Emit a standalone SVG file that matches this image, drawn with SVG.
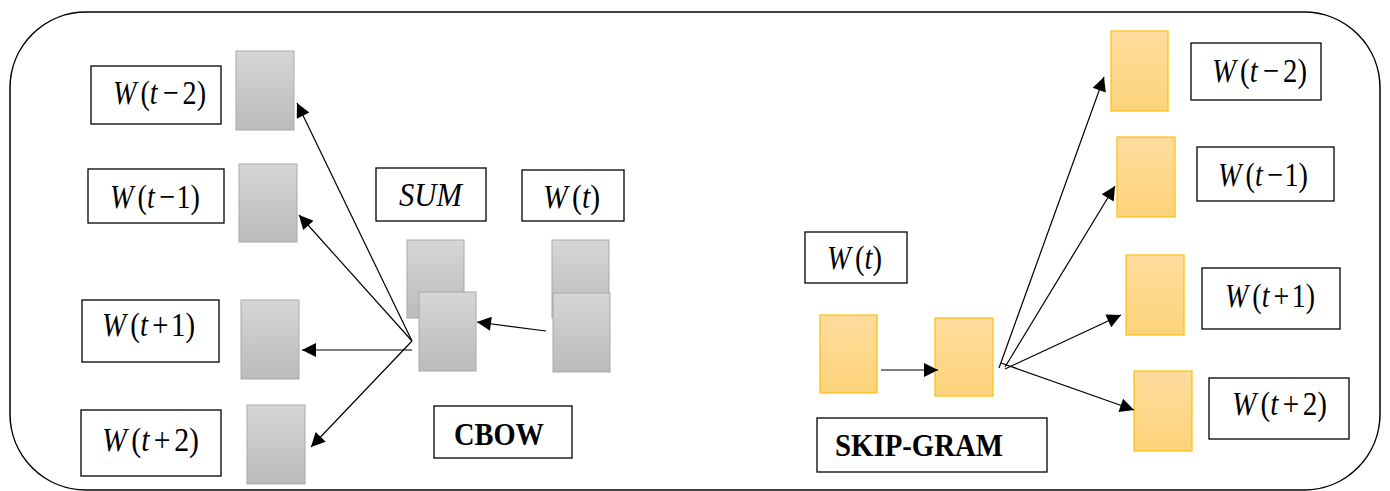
<svg xmlns="http://www.w3.org/2000/svg" width="1390" height="491" viewBox="0 0 1390 491">
<style>
.lbl{fill:#fff;stroke:#000;stroke-width:1.3}
.gray{fill:url(#gg);stroke:#a9a9a9;stroke-width:1}
.yel{fill:url(#yg);stroke:#fcc21b;stroke-width:1.3}
.t{font-family:"Liberation Serif","Times New Roman",serif;font-size:34px;fill:#000}
.i{font-style:italic}
.b{font-weight:bold;font-size:32px}
.c{stroke:#000;stroke-width:1.2;fill:none;marker-end:url(#ah)}
</style>
<defs>
<linearGradient id="gg" x1="0" y1="0" x2="0" y2="1"><stop offset="0" stop-color="#d6d6d6"/><stop offset="1" stop-color="#bbbbbb"/></linearGradient>
<linearGradient id="yg" x1="0" y1="0" x2="0" y2="1"><stop offset="0" stop-color="#fedc9d"/><stop offset="1" stop-color="#fdd37a"/></linearGradient>
<marker id="ah" viewBox="0 0 10 10" refX="10" refY="5" markerWidth="18" markerHeight="14" markerUnits="userSpaceOnUse" orient="auto"><path d="M0,0 L10,5 L0,10 z" fill="#000"/></marker>
</defs>
<rect id="frame" x="10" y="12" width="1370" height="478" rx="76" ry="76" fill="none" stroke="#000" stroke-width="1.5"/>
<g id="cbow">
<g id="l-wt2"><rect class="lbl" x="91" y="66" width="130" height="58"/><text class="t" x="113" y="104" textLength="93" lengthAdjust="spacingAndGlyphs"><tspan class="i">W</tspan><tspan dx="5">(</tspan><tspan class="i">t</tspan><tspan dx="6">−</tspan><tspan dx="5">2)</tspan></text></g>
<g id="l-g1"><rect class="gray" x="236" y="51" width="58" height="79"/></g>
<g id="l-wt1"><rect class="lbl" x="88" y="169" width="136" height="54"/><text class="t" x="110" y="208" textLength="90" lengthAdjust="spacingAndGlyphs"><tspan class="i">W</tspan><tspan dx="5">(</tspan><tspan class="i">t</tspan><tspan dx="5">−</tspan><tspan dx="2">1)</tspan></text></g>
<g id="l-g2"><rect class="gray" x="239" y="164" width="58" height="78"/></g>
<g id="l-wtp1"><rect class="lbl" x="82" y="300" width="137" height="62"/><text class="t" x="102" y="336" textLength="93" lengthAdjust="spacingAndGlyphs"><tspan class="i">W</tspan><tspan dx="5">(</tspan><tspan class="i">t</tspan><tspan dx="5">+</tspan><tspan dx="3">1)</tspan></text></g>
<g id="l-g3"><rect class="gray" x="241" y="300" width="58" height="79"/></g>
<g id="l-wtp2"><rect class="lbl" x="81" y="410" width="140" height="66"/><text class="t" x="102" y="451" textLength="97" lengthAdjust="spacingAndGlyphs"><tspan class="i">W</tspan><tspan dx="5">(</tspan><tspan class="i">t</tspan><tspan dx="5">+</tspan><tspan dx="4">2)</tspan></text></g>
<g id="l-g4"><rect class="gray" x="247" y="405" width="58" height="79"/></g>
<g id="l-sum"><rect class="lbl" x="376" y="168" width="110" height="53"/><text class="t i" x="399" y="206" textLength="63" lengthAdjust="spacingAndGlyphs">SUM</text></g>
<g id="l-wt"><rect class="lbl" x="522" y="170" width="102" height="51"/><text class="t" x="543" y="208" textLength="57" lengthAdjust="spacingAndGlyphs"><tspan class="i">W</tspan><tspan dx="5">(</tspan><tspan class="i">t</tspan>)</text></g>
<g id="l-sumback"><rect class="gray" x="407" y="240" width="57" height="78"/></g>
<g id="l-sumfront"><rect class="gray" x="419" y="292" width="57" height="79"/></g>
<g id="l-inback"><rect class="gray" x="552" y="240" width="57" height="78"/></g>
<g id="l-infront"><rect class="gray" x="553" y="293" width="57" height="79"/></g>
<g id="l-cbow"><rect class="lbl" x="434" y="406" width="138" height="52"/><text class="t b" x="454" y="445" textLength="90" lengthAdjust="spacingAndGlyphs">CBOW</text></g>
</g>
<g id="skipgram">
<g id="r-y1"><rect class="yel" x="1111" y="31" width="57" height="80"/></g>
<g id="r-wt2"><rect class="lbl" x="1191" y="43" width="130" height="57"/><text class="t" x="1212" y="82" textLength="95" lengthAdjust="spacingAndGlyphs"><tspan class="i">W</tspan><tspan dx="5">(</tspan><tspan class="i">t</tspan><tspan dx="6">−</tspan><tspan dx="5">2)</tspan></text></g>
<g id="r-y2"><rect class="yel" x="1117" y="137" width="58" height="80"/></g>
<g id="r-wt1"><rect class="lbl" x="1197" y="147" width="137" height="54"/><text class="t" x="1218" y="186" textLength="90" lengthAdjust="spacingAndGlyphs"><tspan class="i">W</tspan><tspan dx="5">(</tspan><tspan class="i">t</tspan><tspan dx="5">−</tspan><tspan dx="2">1)</tspan></text></g>
<g id="r-y3"><rect class="yel" x="1126" y="255" width="58" height="80"/></g>
<g id="r-wtp1"><rect class="lbl" x="1202" y="268" width="138" height="61"/><text class="t" x="1225" y="307" textLength="90" lengthAdjust="spacingAndGlyphs"><tspan class="i">W</tspan><tspan dx="5">(</tspan><tspan class="i">t</tspan><tspan dx="5">+</tspan><tspan dx="3">1)</tspan></text></g>
<g id="r-y4"><rect class="yel" x="1134" y="371" width="58" height="80"/></g>
<g id="r-wtp2"><rect class="lbl" x="1209" y="378" width="140" height="61"/><text class="t" x="1232" y="415" textLength="95" lengthAdjust="spacingAndGlyphs"><tspan class="i">W</tspan><tspan dx="5">(</tspan><tspan class="i">t</tspan><tspan dx="5">+</tspan><tspan dx="4">2)</tspan></text></g>
<g id="r-wt"><rect class="lbl" x="805" y="232" width="102" height="51"/><text class="t" x="827" y="269" textLength="55" lengthAdjust="spacingAndGlyphs"><tspan class="i">W</tspan><tspan dx="5">(</tspan><tspan class="i">t</tspan>)</text></g>
<g id="r-in"><rect class="yel" x="820" y="315" width="57" height="78"/></g>
<g id="r-hid"><rect class="yel" x="935" y="318" width="58" height="78"/></g>
<g id="r-sg"><rect class="lbl" x="817" y="418" width="230" height="54"/><text class="t b" x="835" y="456" textLength="168" lengthAdjust="spacingAndGlyphs">SKIP-GRAM</text></g>
</g>
<g id="connectors">
<line class="c" x1="412" y1="341" x2="297" y2="103"/>
<line class="c" x1="412" y1="341" x2="299" y2="215"/>
<line class="c" x1="412" y1="350" x2="302" y2="350" stroke="#444" stroke-width="1.6"/>
<line class="c" x1="412" y1="341" x2="311" y2="447"/>
<line class="c" x1="546" y1="331" x2="477" y2="322"/>
<line class="c" x1="881" y1="370" x2="938" y2="370"/>
<line class="c" x1="999" y1="368" x2="1104" y2="77"/>
<line class="c" x1="1005" y1="367" x2="1115" y2="186"/>
<line class="c" x1="1005" y1="369" x2="1121" y2="315"/>
<line class="c" x1="1001" y1="363" x2="1134" y2="410"/>
</g>
</svg>
